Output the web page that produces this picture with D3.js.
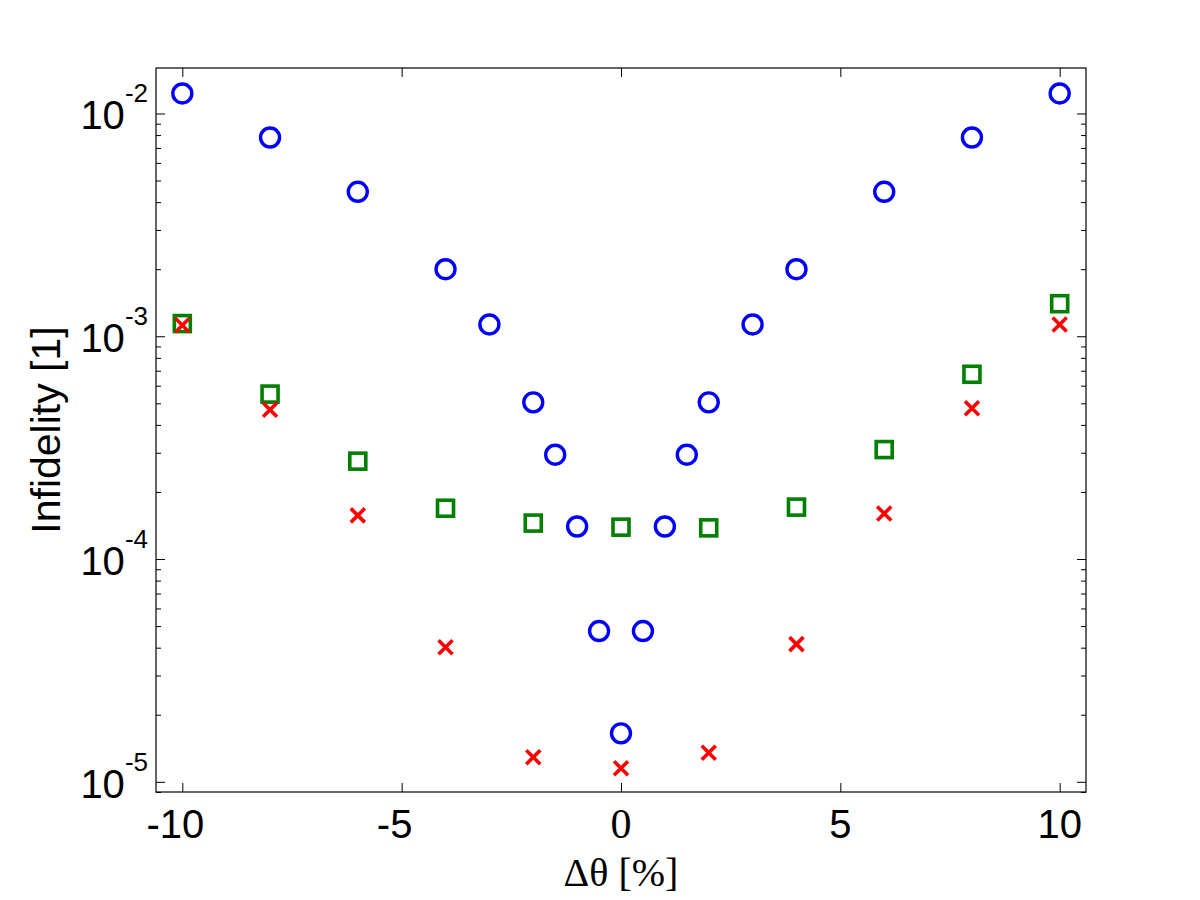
<!DOCTYPE html>
<html>
<head>
<meta charset="utf-8">
<script src="https://cdn.jsdelivr.net/npm/d3@7"></script>
<style>
  body { margin: 0; background: #fff; }
  svg { display: block; }
</style>
</head>
<body>
<div id="chart"></div>
<script>
// Δθ positions (percent)
const circleX = [-10, -8, -6, -4, -3, -2, -1.5, -1, -0.5, 0, 0.5, 1, 1.5, 2, 3, 4, 6, 8, 10];
const circleY = [1.23e-2, 7.8e-3, 4.45e-3, 2.0e-3, 1.13e-3, 5.05e-4, 2.94e-4, 1.40e-4, 4.75e-5, 1.65e-5,
                 4.75e-5, 1.40e-4, 2.94e-4, 5.05e-4, 1.13e-3, 2.0e-3, 4.45e-3, 7.8e-3, 1.23e-2];

const squareX = [-10, -8, -6, -4, -2, 0, 2, 4, 6, 8, 10];
const squareY = [1.14e-3, 5.5e-4, 2.75e-4, 1.69e-4, 1.45e-4, 1.39e-4, 1.38e-4, 1.71e-4, 3.1e-4, 6.75e-4, 1.40e-3];

const crossX = [-10, -8, -6, -4, -2, 0, 2, 4, 6, 8, 10];
const crossY = [1.12e-3, 4.68e-4, 1.57e-4, 4.02e-5, 1.29e-5, 1.15e-5, 1.35e-5, 4.15e-5, 1.60e-4, 4.75e-4, 1.13e-3];

const xTicks = [-10, -5, 0, 5, 10];
const yExps = [-2, -3, -4, -5];

const width = 1200, height = 900;
const margin = {top: 68, right: 114, bottom: 108, left: 156};

const svg = d3.select("#chart").append("svg")
    .attr("width", width)
    .attr("height", height);

const x = d3.scaleLinear()
    .domain([-10.6, 10.6])
    .range([margin.left, width - margin.right]);

const y = d3.scaleLog()
    .domain([9e-6, 0.016])
    .range([height - margin.bottom, margin.top]);

const sans = "'Liberation Sans', Arial, Helvetica, sans-serif";
const serif = "'Liberation Serif', 'Times New Roman', serif";

// x ticks, inward, top and bottom
svg.append("g")
    .attr("transform", `translate(0,${y.range()[0]})`)
    .call(d3.axisBottom(x).tickValues(xTicks).tickSizeInner(-9).tickSizeOuter(0).tickFormat(""));
svg.append("g")
    .attr("transform", `translate(0,${y.range()[1]})`)
    .call(d3.axisTop(x).tickValues(xTicks).tickSizeInner(-9).tickSizeOuter(0).tickFormat(""));

// y ticks, major + minor, inward, left and right
const majors = yExps.map(e => Math.pow(10, e));
const minors = [];
[-6, -5, -4, -3, -2].forEach(e => {
    for (let m = 2; m <= 9; m++) {
        const v = m * Math.pow(10, e);
        if (v >= y.domain()[0] && v <= y.domain()[1]) minors.push(v);
    }
});
[[d3.axisLeft, x.range()[0]], [d3.axisRight, x.range()[1]]].forEach(([ax, px]) => {
    svg.append("g")
        .attr("transform", `translate(${px},0)`)
        .call(ax(y).tickValues(majors).tickSizeInner(-9).tickSizeOuter(0).tickFormat(""));
    svg.append("g")
        .attr("transform", `translate(${px},0)`)
        .call(ax(y).tickValues(minors).tickSizeInner(-5).tickSizeOuter(0).tickFormat(""));
});
svg.selectAll(".domain").remove();
svg.selectAll(".tick line").attr("stroke", "#000").attr("stroke-width", 1);

// box
svg.append("rect")
    .attr("x", x.range()[0])
    .attr("y", y.range()[1])
    .attr("width", x.range()[1] - x.range()[0])
    .attr("height", y.range()[0] - y.range()[1])
    .attr("fill", "none")
    .attr("stroke", "#000")
    .attr("stroke-width", 1.2);

// x tick labels (the 0 comes out in a serif face in the original)
svg.append("g").selectAll("text")
    .data(xTicks)
    .join("text")
    .attr("x", d => x(d) + (d < 0 ? -7 : 0))
    .attr("y", y.range()[0] + 46)
    .attr("text-anchor", "middle")
    .attr("font-family", d => d === 0 ? serif : sans)
    .attr("font-size", d => d === 0 ? 42 : 40)
    .attr("fill", "#000")
    .text(d => d);

// y tick labels: 10^e
const yl = svg.append("g").selectAll("text")
    .data(yExps)
    .join("text")
    .attr("x", x.range()[0] - 8)
    .attr("y", d => y(Math.pow(10, d)) + 16)
    .attr("text-anchor", "end")
    .attr("font-family", sans)
    .attr("fill", "#000");
yl.append("tspan").attr("font-size", 40).text("10");
yl.append("tspan").attr("font-size", 26).attr("dy", -27).text(d => "-" + Math.abs(d));

// axis titles
svg.append("text")
    .attr("x", (x.range()[0] + x.range()[1]) / 2)
    .attr("y", 886)
    .attr("text-anchor", "middle")
    .attr("font-family", serif)
    .attr("font-size", 40)
    .attr("fill", "#000")
    .text("Δθ [%]");

svg.append("text")
    .attr("transform", `translate(60,${(y.range()[0] + y.range()[1]) / 2}) rotate(-90)`)
    .attr("text-anchor", "middle")
    .attr("font-family", sans)
    .attr("font-size", 41)
    .attr("fill", "#000")
    .text("Infidelity [1]");

// circles
svg.append("g").selectAll("circle")
    .data(d3.zip(circleX, circleY))
    .join("circle")
    .attr("cx", d => x(d[0]))
    .attr("cy", d => y(d[1]))
    .attr("r", 9.5)
    .attr("fill", "none")
    .attr("stroke", "#0000ff")
    .attr("stroke-width", 3.4);

// squares
const s = 16;
svg.append("g").selectAll("rect")
    .data(d3.zip(squareX, squareY))
    .join("rect")
    .attr("x", d => x(d[0]) - s / 2)
    .attr("y", d => y(d[1]) - s / 2)
    .attr("width", s)
    .attr("height", s)
    .attr("fill", "none")
    .attr("stroke", "#008000")
    .attr("stroke-width", 3.6);

// crosses
const c = 7;
svg.append("g").selectAll("path")
    .data(d3.zip(crossX, crossY))
    .join("path")
    .attr("d", d => {
        const cx = x(d[0]), cy = y(d[1]);
        return `M${cx - c},${cy - c}L${cx + c},${cy + c}M${cx - c},${cy + c}L${cx + c},${cy - c}`;
    })
    .attr("fill", "none")
    .attr("stroke", "#ff0000")
    .attr("stroke-width", 3.6);
</script>
</body>
</html>
